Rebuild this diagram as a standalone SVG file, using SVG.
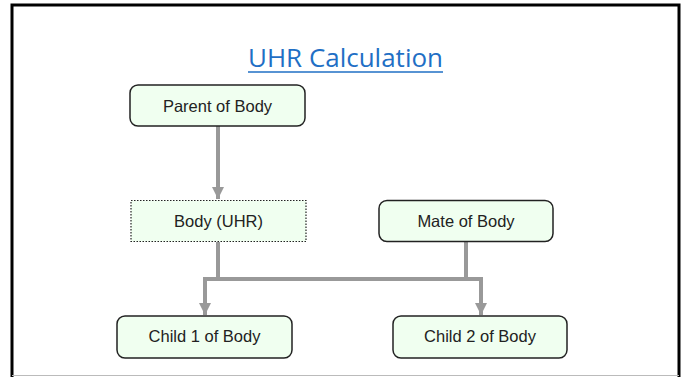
<svg xmlns="http://www.w3.org/2000/svg" width="685" height="377" viewBox="0 0 685 377">
<style>
.node rect{fill:#F0FFF0;stroke:#222;stroke-width:1.5}
.node text{font-family:"Liberation Sans",Arial,sans-serif;font-size:16.5px;fill:#222;text-anchor:middle}
.conn{fill:none;stroke:#999;stroke-width:4}
</style>
<defs>
<marker id="ah" viewBox="0 0 10 10" refX="10" refY="5" markerWidth="3" markerHeight="3" markerUnits="strokeWidth" orient="auto">
<path d="M0,0 L10,5 L0,10 Z" fill="#999"/>
</marker>
</defs>
<rect x="0" y="0" width="685" height="377" fill="#fff"/>
<path d="M12,377 V5 H679 V377" fill="none" stroke="#000" stroke-width="3"/>
<line x1="12" y1="375.5" x2="679" y2="375.5" stroke="#bbb" stroke-width="1"/>
<g id="title">
<text x="345.5" y="67" font-family="'Open Sans','Noto Sans',sans-serif" font-size="26" fill="#1F6FC5" text-anchor="middle" textLength="195" lengthAdjust="spacingAndGlyphs">UHR Calculation</text>
<line x1="248" y1="72" x2="443" y2="72" stroke="#1F6FC5" stroke-width="1.5"/>
</g>
<g id="connectors">
<line class="conn" x1="218" y1="126" x2="218" y2="199" marker-end="url(#ah)"/>
<path class="conn" d="M218,242 V279 M466,242 V279"/>
<path class="conn" d="M205,279 H481"/>
<line class="conn" x1="205" y1="277" x2="205" y2="315" marker-end="url(#ah)"/>
<line class="conn" x1="481" y1="277" x2="481" y2="315" marker-end="url(#ah)"/>
</g>
<g id="parent" class="node">
<rect x="130" y="85" width="175" height="41" rx="8"/>
<text x="217.5" y="111.5">Parent of Body</text>
</g>
<g id="body" class="node">
<rect x="131" y="200.5" width="175" height="41" style="stroke-dasharray:1.5 1.5;stroke-width:1.2"/>
<text x="218.5" y="227">Body (UHR)</text>
</g>
<g id="mate" class="node">
<rect x="379" y="200.5" width="174" height="41" rx="8"/>
<text x="466" y="227">Mate of Body</text>
</g>
<g id="child1" class="node">
<rect x="117" y="316" width="175" height="42" rx="8"/>
<text x="204.5" y="342">Child 1 of Body</text>
</g>
<g id="child2" class="node">
<rect x="393" y="316" width="174" height="42" rx="8"/>
<text x="480" y="342">Child 2 of Body</text>
</g>
</svg>
